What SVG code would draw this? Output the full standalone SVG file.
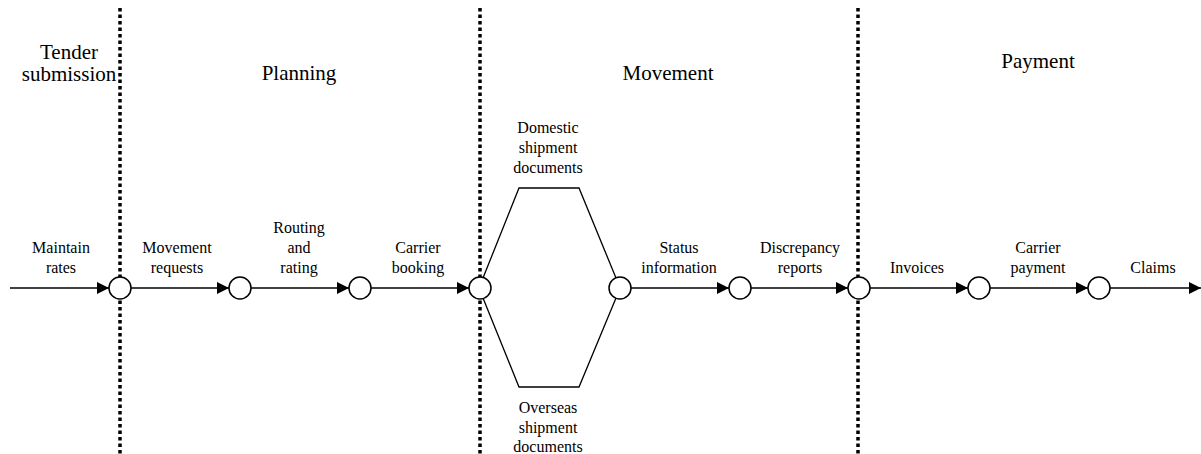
<svg xmlns="http://www.w3.org/2000/svg" width="1201" height="454" viewBox="0 0 1201 454">
  <style>
    .phase { font-family: "Liberation Serif", "DejaVu Serif", serif; font-size: 21px; fill: #000; text-anchor: middle; }
    .lbl { font-family: "Liberation Serif", "DejaVu Serif", serif; font-size: 16px; fill: #000; text-anchor: middle; }
    .divider { stroke: #000; stroke-width: 3.5; stroke-dasharray: 3.5 3; fill: none; }
    .flow { stroke: #404040; stroke-width: 2; fill: none; marker-end: url(#arrow); }
    .branch { stroke: #000; stroke-width: 1.3; fill: none; }
    .node { fill: #fff; stroke: #000; stroke-width: 1.5; }
  </style>
  <defs>
    <marker id="arrow" markerUnits="userSpaceOnUse" markerWidth="12" markerHeight="12" viewBox="0 0 12 12" refX="12" refY="6" orient="auto">
      <path d="M0,0 L12,6 L0,12 z" fill="#000"/>
    </marker>
  </defs>
  <rect width="1201" height="454" fill="#fff"/>

  <!-- phase dividers -->
  <g id="dividers">
    <line class="divider" x1="120" y1="8" x2="120" y2="454"/>
    <line class="divider" x1="480" y1="8" x2="480" y2="454"/>
    <line class="divider" x1="858" y1="8" x2="858" y2="454"/>
  </g>

  <!-- phase titles -->
  <g id="phases">
    <text class="phase" x="69" y="59">Tender</text>
    <text class="phase" x="69" y="81">submission</text>
    <text class="phase" x="299" y="80">Planning</text>
    <text class="phase" x="668" y="80">Movement</text>
    <text class="phase" x="1038" y="68">Payment</text>
  </g>

  <!-- connectors -->
  <g id="connectors">
    <line class="flow" x1="10" y1="288" x2="109" y2="288"/>
    <line class="flow" x1="131" y1="288" x2="229" y2="288"/>
    <line class="flow" x1="251" y1="288" x2="349" y2="288"/>
    <line class="flow" x1="371" y1="288" x2="469" y2="288"/>
    <polyline class="branch" points="483,278 519,188 579,188 616,278"/>
    <polyline class="branch" points="483,298 519,387 579,387 616,298"/>
    <line class="flow" x1="631" y1="288" x2="729" y2="288"/>
    <line class="flow" x1="751" y1="288" x2="848" y2="288"/>
    <line class="flow" x1="870" y1="288" x2="968" y2="288"/>
    <line class="flow" x1="990" y1="288" x2="1088" y2="288"/>
    <line class="flow" x1="1110" y1="288" x2="1201" y2="288"/>
  </g>

  <!-- connector labels -->
  <g id="labels">
    <text class="lbl" x="61" y="253">Maintain</text>
    <text class="lbl" x="61" y="273">rates</text>
    <text class="lbl" x="177" y="253">Movement</text>
    <text class="lbl" x="177" y="273">requests</text>
    <text class="lbl" x="299" y="233">Routing</text>
    <text class="lbl" x="299" y="253">and</text>
    <text class="lbl" x="299" y="273">rating</text>
    <text class="lbl" x="418" y="253">Carrier</text>
    <text class="lbl" x="418" y="273">booking</text>
    <text class="lbl" x="548" y="133">Domestic</text>
    <text class="lbl" x="548" y="153">shipment</text>
    <text class="lbl" x="548" y="173">documents</text>
    <text class="lbl" x="548" y="413">Overseas</text>
    <text class="lbl" x="548" y="433">shipment</text>
    <text class="lbl" x="548" y="452">documents</text>
    <text class="lbl" x="679" y="253">Status</text>
    <text class="lbl" x="679" y="273">information</text>
    <text class="lbl" x="800" y="253">Discrepancy</text>
    <text class="lbl" x="800" y="273">reports</text>
    <text class="lbl" x="917" y="273">Invoices</text>
    <text class="lbl" x="1038" y="253">Carrier</text>
    <text class="lbl" x="1038" y="273">payment</text>
    <text class="lbl" x="1153" y="273">Claims</text>
  </g>

  <!-- event nodes -->
  <g id="n1"><circle class="node" cx="120" cy="288" r="11"/></g>
  <g id="n2"><circle class="node" cx="240" cy="288" r="11"/></g>
  <g id="n3"><circle class="node" cx="360" cy="288" r="11"/></g>
  <g id="n4"><circle class="node" cx="480" cy="288" r="11"/></g>
  <g id="n5"><circle class="node" cx="620" cy="288" r="11"/></g>
  <g id="n6"><circle class="node" cx="740" cy="288" r="11"/></g>
  <g id="n7"><circle class="node" cx="859" cy="288" r="11"/></g>
  <g id="n8"><circle class="node" cx="979" cy="288" r="11"/></g>
  <g id="n9"><circle class="node" cx="1099" cy="288" r="11"/></g>
</svg>
